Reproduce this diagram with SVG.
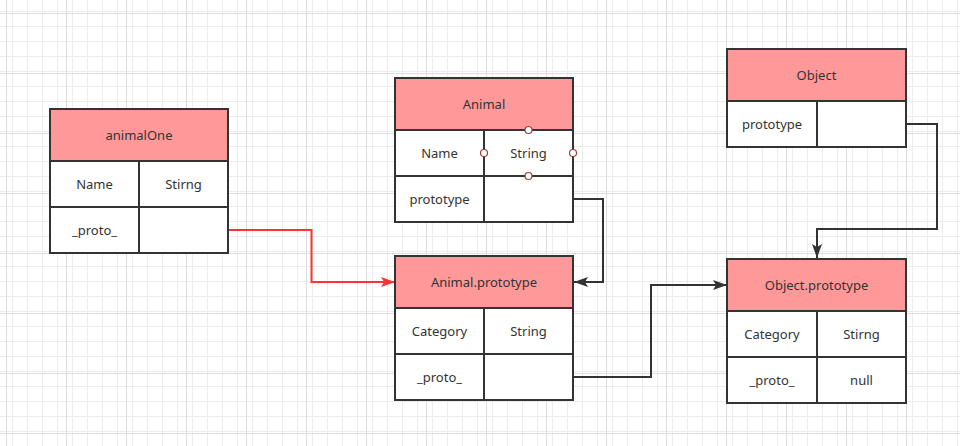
<svg xmlns="http://www.w3.org/2000/svg" width="960" height="446" viewBox="0 0 960 446">
  <defs>
    <pattern id="minor" x="6" y="13" width="15" height="15" patternUnits="userSpaceOnUse">
      <path d="M0.5,0 V15 M0,0.5 H15" fill="none" stroke="#ececec" stroke-width="1"/>
    </pattern>
    <pattern id="major" x="6" y="13" width="60" height="60" patternUnits="userSpaceOnUse">
      <rect width="60" height="60" fill="url(#minor)"/>
      <path d="M0.5,0 V60 M0,0.5 H60" fill="none" stroke="#dedede" stroke-width="1"/>
    </pattern>
    <marker id="arrowRed" viewBox="0 0 14 10" refX="14" refY="5" markerWidth="14" markerHeight="10" markerUnits="userSpaceOnUse" orient="auto">
      <path d="M0,0 L14,5 L0,10 L3,5 z" fill="#ff3333"/>
    </marker>
    <marker id="arrowDark" viewBox="0 0 14 10" refX="14" refY="5" markerWidth="14" markerHeight="10" markerUnits="userSpaceOnUse" orient="auto">
      <path d="M0,0 L14,5 L0,10 L3,5 z" fill="#333333"/>
    </marker>
  </defs>
  <style>
    .hdr { fill: #ff9999; stroke: #333333; stroke-width: 2; }
    .cell { fill: #ffffff; stroke: #333333; stroke-width: 2; }
    text { font-family: "Noto Sans", "Open Sans", "DejaVu Sans", sans-serif; font-size: 13px; fill: #333333; text-anchor: middle; dominant-baseline: central; }
    .conn { fill: none; stroke: #333333; stroke-width: 2; }
    .conn-red { fill: none; stroke: #ff3333; stroke-width: 2; }
    .pt { fill: #ffffff; stroke: #a33a3a; stroke-width: 1.2; }
  </style>
  <rect width="960" height="446" fill="#ffffff"/>
  <rect width="960" height="446" fill="url(#major)"/>

  <g id="connectors">
    <path class="conn-red" d="M228,230 H311.5 V282 H395" marker-end="url(#arrowRed)"/>
    <path class="conn" d="M573,199 H603 V282 H574" marker-end="url(#arrowDark)"/>
    <path class="conn" d="M573,377 H651 V285 H727" marker-end="url(#arrowDark)"/>
    <path class="conn" d="M906,124 H937 V229 H817 V258" marker-end="url(#arrowDark)"/>
  </g>

  <g id="animalOne">
    <rect class="hdr" x="50" y="109" width="178" height="52"/>
    <rect class="cell" x="50" y="161" width="89" height="46"/>
    <rect class="cell" x="139" y="161" width="89" height="46"/>
    <rect class="cell" x="50" y="207" width="89" height="46"/>
    <rect class="cell" x="139" y="207" width="89" height="46"/>
    <text x="139" y="135">animalOne</text>
    <text x="94.5" y="184">Name</text>
    <text x="183.5" y="184">Stirng</text>
    <text x="94.5" y="230">_proto_</text>
  </g>

  <g id="Animal">
    <rect class="hdr" x="395" y="78" width="178" height="52"/>
    <rect class="cell" x="395" y="130" width="89" height="46"/>
    <rect class="cell" x="484" y="130" width="89" height="46"/>
    <rect class="cell" x="395" y="176" width="89" height="46"/>
    <rect class="cell" x="484" y="176" width="89" height="46"/>
    <text x="484" y="104">Animal</text>
    <text x="439.5" y="153">Name</text>
    <text x="528.5" y="153">String</text>
    <text x="439.5" y="199">prototype</text>
    <circle class="pt" cx="528.5" cy="130" r="3.5"/>
    <circle class="pt" cx="484" cy="153" r="3.5"/>
    <circle class="pt" cx="573" cy="153" r="3.5"/>
    <circle class="pt" cx="528.5" cy="176" r="3.5"/>
  </g>

  <g id="AnimalPrototype">
    <rect class="hdr" x="395" y="256" width="178" height="52"/>
    <rect class="cell" x="395" y="308" width="89" height="46"/>
    <rect class="cell" x="484" y="308" width="89" height="46"/>
    <rect class="cell" x="395" y="354" width="89" height="46"/>
    <rect class="cell" x="484" y="354" width="89" height="46"/>
    <text x="484" y="282">Animal.prototype</text>
    <text x="439.5" y="331">Category</text>
    <text x="528.5" y="331">String</text>
    <text x="439.5" y="377">_proto_</text>
  </g>

  <g id="Object">
    <rect class="hdr" x="727" y="49" width="179" height="52"/>
    <rect class="cell" x="727" y="101" width="90" height="46"/>
    <rect class="cell" x="817" y="101" width="89" height="46"/>
    <text x="816.5" y="75">Object</text>
    <text x="772" y="124">prototype</text>
  </g>

  <g id="ObjectPrototype">
    <rect class="hdr" x="727" y="259" width="179" height="52"/>
    <rect class="cell" x="727" y="311" width="90" height="46"/>
    <rect class="cell" x="817" y="311" width="89" height="46"/>
    <rect class="cell" x="727" y="357" width="90" height="46"/>
    <rect class="cell" x="817" y="357" width="89" height="46"/>
    <text x="816.5" y="285">Object.prototype</text>
    <text x="772" y="334">Category</text>
    <text x="861.5" y="334">Stirng</text>
    <text x="772" y="380">_proto_</text>
    <text x="861.5" y="380">null</text>
  </g>
</svg>
